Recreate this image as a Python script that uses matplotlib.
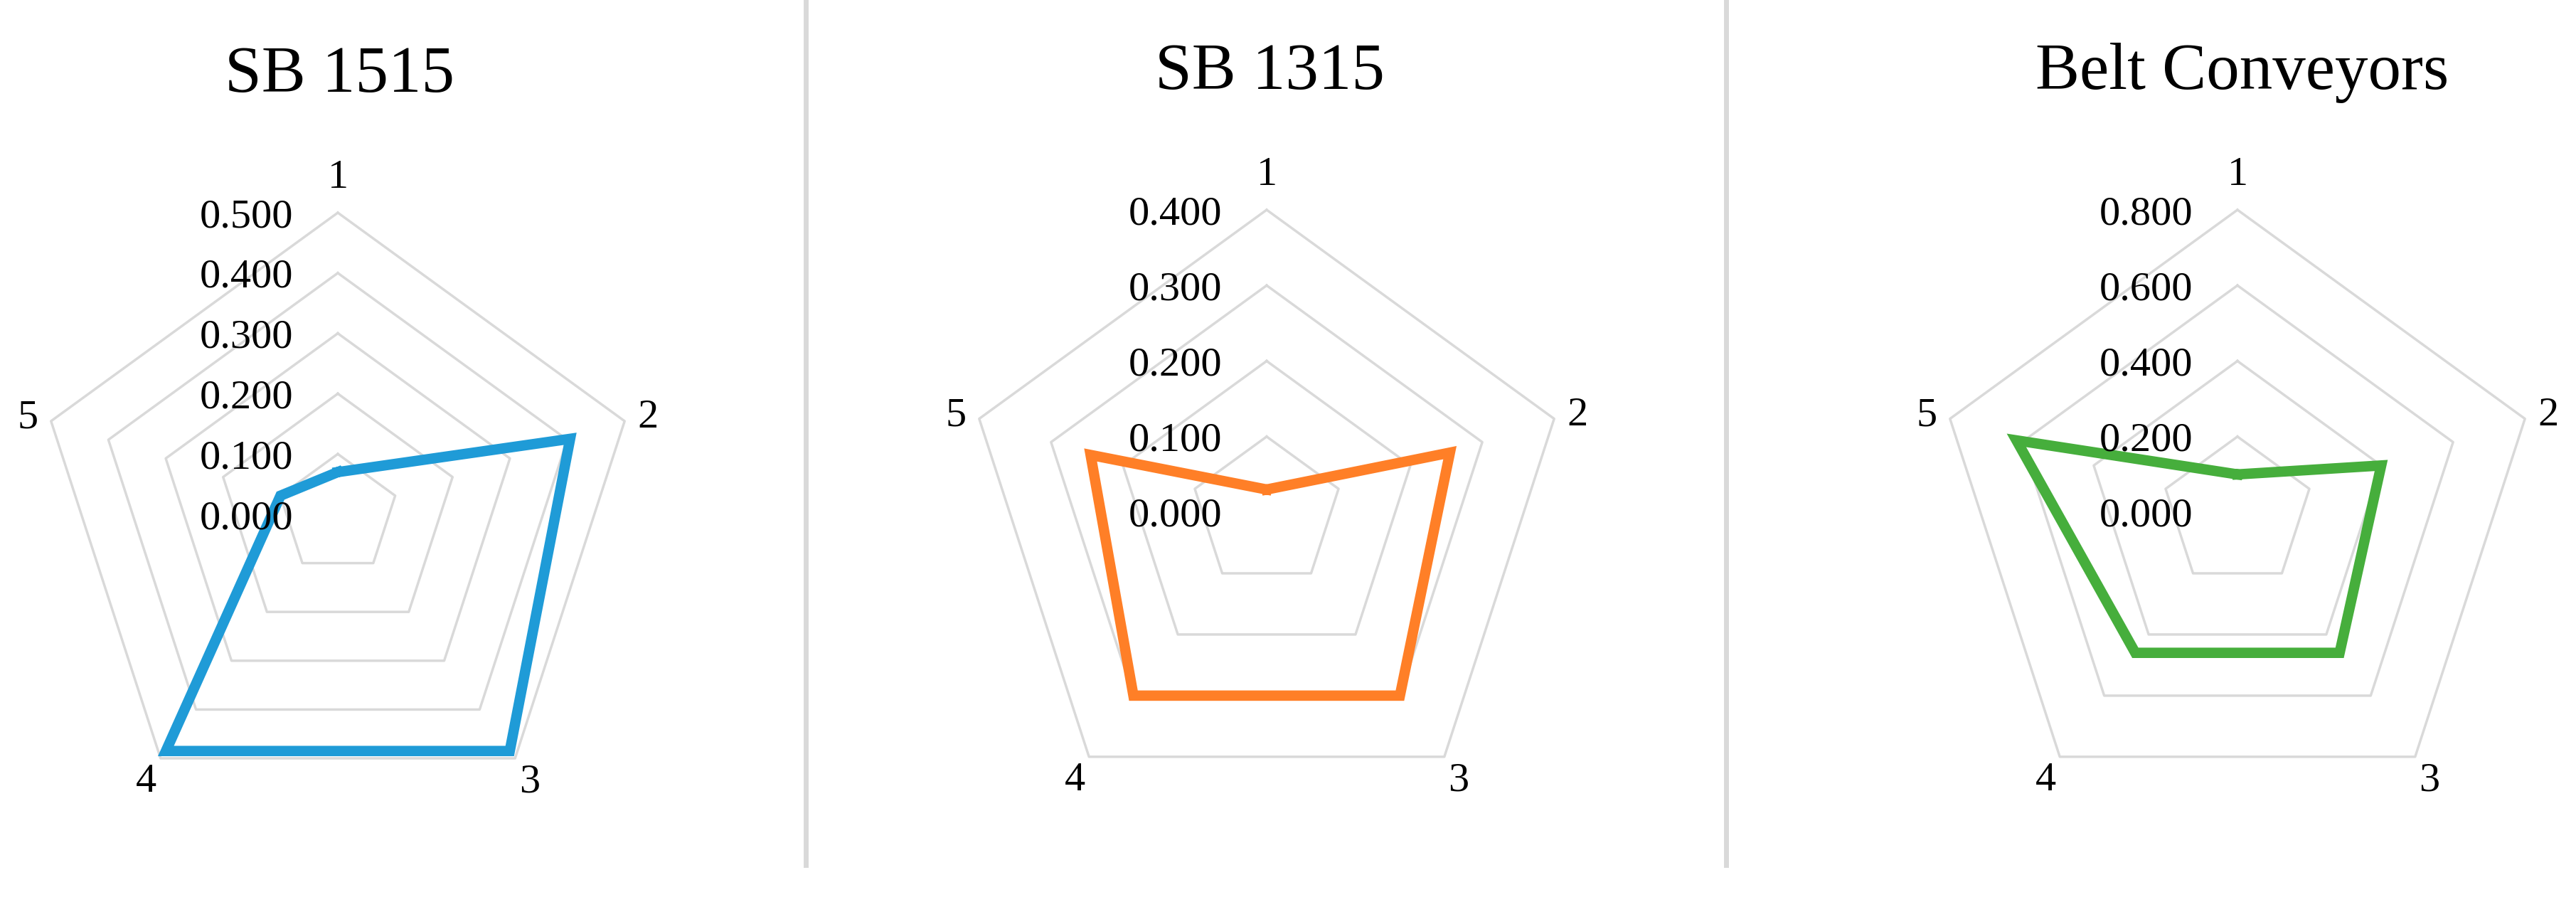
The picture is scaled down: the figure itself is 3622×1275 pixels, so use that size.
import numpy as np
import matplotlib
matplotlib.use("Agg")
import matplotlib.pyplot as plt
from matplotlib.lines import Line2D

# data
categories = ["1", "2", "3", "4", "5"]
titles = ["SB 1515", "SB 1315", "Belt Conveyors"]
sb1515 = [0.07, 0.405, 0.485, 0.485, 0.10]
sb1315 = [0.03, 0.255, 0.30, 0.30, 0.245]
belt = [0.10, 0.40, 0.46, 0.46, 0.615]
levels_sb1515 = [0.0, 0.1, 0.2, 0.3, 0.4, 0.5]
levels_sb1315 = [0.0, 0.1, 0.2, 0.3, 0.4]
levels_belt = [0.0, 0.2, 0.4, 0.6, 0.8]
colors = ["#1f9bd7", "#ff7f27", "#46ae3c"]

plt.rcParams["font.family"] = ["Liberation Serif", "DejaVu Serif"]

W, H = 3622, 1275
fig = plt.figure(figsize=(W / 100, H / 100), dpi=100)

# panel geometry in pixels: center x, center y (from top), radius
panels = [(475, 723, 424), (1781, 720, 425), (3146, 720, 425)]
title_pos = [(478, 129), (1785, 125), (3153, 125)]
series = [sb1515, sb1315, belt]
levels = [levels_sb1515, levels_sb1315, levels_belt]

n = len(categories)
angles = np.linspace(0, 2 * np.pi, n, endpoint=False)
ang_closed = np.concatenate([angles, angles[:1]])

for (cx, cy, R), vals, lev, col, ttl, (tx, ty) in zip(
    panels, series, levels, colors, titles, title_pos
):
    ax = fig.add_axes(
        [(cx - R) / W, (H - cy - R) / H, 2 * R / W, 2 * R / H], projection="polar"
    )
    ax.set_theta_offset(np.pi / 2)
    ax.set_theta_direction(-1)
    rmax = lev[-1]
    ax.set_ylim(0, rmax)
    ax.set_axis_off()

    # pentagon gridlines
    for lv in lev[1:]:
        ax.plot(ang_closed, [lv] * (n + 1), color="#d9d9d9", lw=2.5,
                clip_on=False, zorder=1)

    # data
    v = np.concatenate([vals, vals[:1]])
    ax.plot(ang_closed, v, color=col, lw=10.5, solid_joinstyle="miter",
            clip_on=False, zorder=3)

    # value axis labels
    for lv in lev:
        ax.annotate(f"{lv:.3f}", xy=(0, lv), xytext=(-45, 0),
                    textcoords="offset points", ha="right",
                    va="center_baseline", fontsize=42, zorder=4)

    # category labels
    for i, (a, c) in enumerate(zip(angles, categories)):
        fr = 1.13 if i == 0 else 1.08
        ax.text(a, rmax * fr, c, ha="center", va="center_baseline", fontsize=42)

    fig.text(tx / W, 1 - ty / H, ttl, ha="center", va="baseline", fontsize=67)

# separators between panels
for sx in [1133, 2427]:
    fig.add_artist(Line2D([sx / W, sx / W], [1.0, 1 - 1216 / H],
                          transform=fig.transFigure, color="#d9d9d9", lw=5))

fig.savefig("out.png", dpi=100, facecolor="white")
